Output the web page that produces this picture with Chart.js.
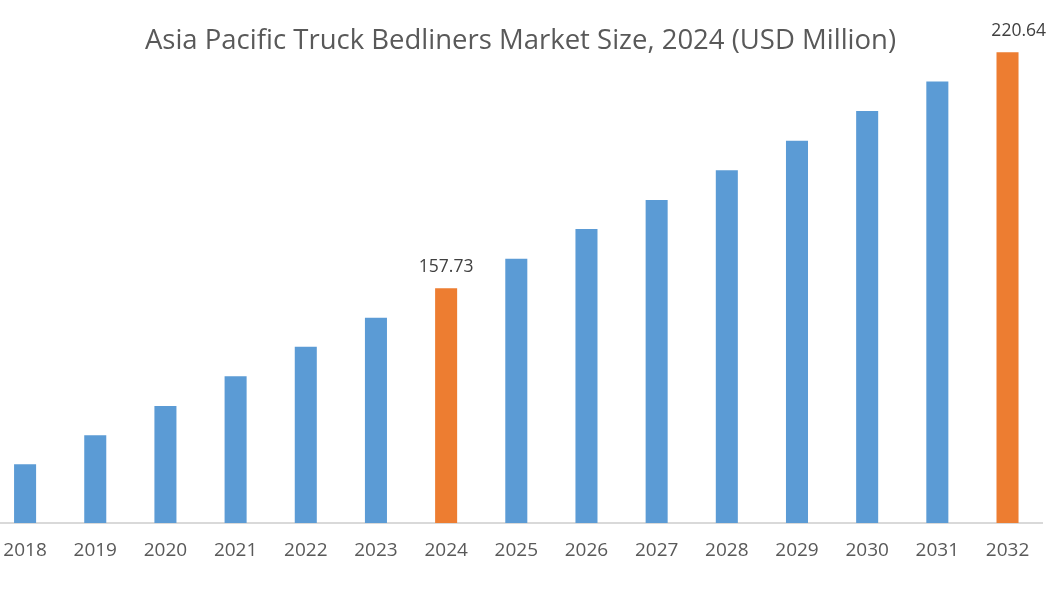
<!DOCTYPE html>
<html>
<head>
<meta charset="utf-8">
<title>Asia Pacific Truck Bedliners Market Size</title>
<script src="https://cdn.jsdelivr.net/npm/chart.js@4"></script>
<style>
  html, body { margin: 0; padding: 0; background: #fff; overflow: hidden; }
  #wrap { position: absolute; left: -10px; top: 0; width: 1066px; height: 600px; }
</style>
</head>
<body>
<div id="wrap"><canvas id="chart"></canvas></div>
<script>
const years = ['2018', '2019', '2020', '2021', '2022', '2023', '2024', '2025',
  '2026', '2027', '2028', '2029', '2030', '2031', '2032'];
const marketSize = [110.82, 118.55, 126.36, 134.28, 142.17, 149.90, 157.73, 165.62,
  173.54, 181.27, 189.19, 197.08, 205.00, 212.86, 220.64];
const labelledYears = ['2024', '2032'];
const titleText = 'Asia Pacific Truck Bedliners Market Size, 2024 (USD Million)';

const BLUE = '#5b9bd5';
const ORANGE = '#ed7d31';

// title drawn by hand so the plot area can run right up under it
const titlePlugin = {
  id: 'titleText',
  afterDraw(chart) {
    const ctx = chart.ctx;
    ctx.save();
    ctx.font = '27.5px "Open Sans"';
    ctx.fillStyle = '#595959';
    ctx.textAlign = 'center';
    ctx.textBaseline = 'alphabetic';
    ctx.fillText(titleText, 530.5, 48.5);
    ctx.restore();
  }
};

// value labels above the highlighted bars
const valueLabels = {
  id: 'valueLabels',
  afterDatasetsDraw(chart) {
    const ctx = chart.ctx;
    const meta = chart.getDatasetMeta(0);
    ctx.save();
    ctx.font = '17.5px "Open Sans"';
    ctx.fillStyle = '#404040';
    ctx.textAlign = 'center';
    ctx.textBaseline = 'middle';
    meta.data.forEach((bar, i) => {
      if (!labelledYears.includes(years[i])) return;
      const text = marketSize[i].toFixed(2);
      const w = ctx.measureText(text).width;
      // the last label sits against the right edge, like the original
      const x = i === years.length - 1 ? chart.width - 10 - w / 2 : bar.x;
      ctx.fillText(text, x, bar.y - 21);
    });
    ctx.restore();
  }
};

new Chart(document.getElementById('chart'), {
  type: 'bar',
  data: {
    labels: years,
    datasets: [{
      data: marketSize,
      backgroundColor: years.map(y => labelledYears.includes(y) ? ORANGE : BLUE),
      categoryPercentage: 1,
      barPercentage: 0.314,
    }],
  },
  options: {
    responsive: true,
    maintainAspectRatio: false,
    animation: false,
    layout: { padding: { top: 40, right: 13.4, left: 0, bottom: 0 } },
    plugins: {
      legend: { display: false },
      title: { display: false },
      tooltip: { enabled: false },
    },
    scales: {
      x: {
        // grid hidden, but tickLength still pushes the labels down
        grid: { display: false, drawTicks: true, tickLength: 4 },
        border: { display: true, color: '#d9d9d9', width: 2 },
        ticks: {
          color: '#595959',
          padding: 12,
          font: { family: 'Open Sans', size: 19 },
        },
        afterFit: (scale) => { scale.height = 77; },
      },
      y: {
        display: false,
        min: 95.17,
        max: 223.92,
      },
    },
  },
  plugins: [titlePlugin, valueLabels],
});
</script>
</body>
</html>
